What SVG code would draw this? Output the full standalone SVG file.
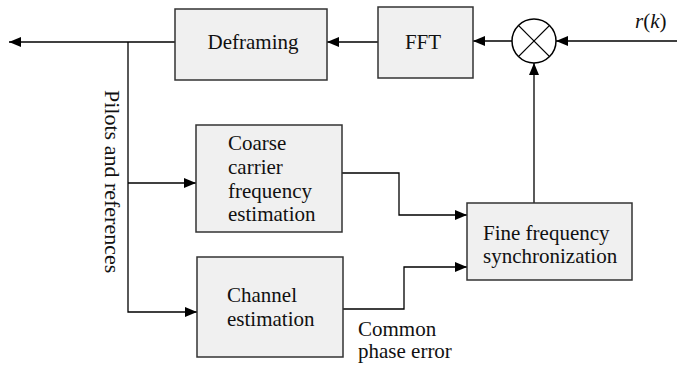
<svg xmlns="http://www.w3.org/2000/svg" width="677" height="366" viewBox="0 0 677 366">
<style>
.box{fill:#f0f0f0;stroke:#333;stroke-width:1.5}
.ln{fill:none;stroke:#000;stroke-width:1.3}
text{font-family:"Liberation Serif","Times New Roman",serif;font-size:21px;fill:#111}
</style>
<defs>
<marker id="ah" markerWidth="12" markerHeight="10" refX="12" refY="5" orient="auto" markerUnits="userSpaceOnUse">
<path d="M0,0 L12,5 L0,10 Z" fill="#000"/>
</marker>
</defs>
<rect width="677" height="366" fill="#fff"/>
<g id="connectors">
<line class="ln" x1="677" y1="41" x2="556" y2="41" marker-end="url(#ah)"/>
<line class="ln" x1="512" y1="41" x2="473" y2="41" marker-end="url(#ah)"/>
<line class="ln" x1="378" y1="42" x2="327" y2="42" marker-end="url(#ah)"/>
<line class="ln" x1="175" y1="42" x2="9" y2="42" marker-end="url(#ah)"/>
<line class="ln" x1="534" y1="203" x2="534" y2="63" marker-end="url(#ah)"/>
<polyline class="ln" points="128,42 128,312 197,312" marker-end="url(#ah)"/>
<line class="ln" x1="128" y1="183" x2="196" y2="183" marker-end="url(#ah)"/>
<polyline class="ln" points="342,173 399,173 399,215 467,215" marker-end="url(#ah)"/>
<polyline class="ln" points="343,309 404,309 404,267 467,267" marker-end="url(#ah)"/>
</g>
<g id="deframing">
<rect class="box" x="175" y="9" width="152" height="71"/>
<text x="253" y="49" text-anchor="middle">Deframing</text>
</g>
<g id="fft">
<rect class="box" x="378" y="7" width="95" height="71"/>
<text x="423" y="49" text-anchor="middle">FFT</text>
</g>
<g id="mixer">
<circle cx="534" cy="41" r="22" fill="#fff" stroke="#000" stroke-width="1.5"/>
<line x1="518.4" y1="25.4" x2="549.6" y2="56.6" stroke="#000" stroke-width="1.3"/>
<line x1="549.6" y1="25.4" x2="518.4" y2="56.6" stroke="#000" stroke-width="1.3"/>
</g>
<g id="input-label">
<text x="635" y="28"><tspan font-style="italic">r</tspan>(<tspan font-style="italic">k</tspan>)</text>
</g>
<g id="coarse">
<rect class="box" x="196" y="125" width="146" height="107"/>
<text x="228" y="150">Coarse</text>
<text x="228" y="174">carrier</text>
<text x="228" y="198">frequency</text>
<text x="228" y="221">estimation</text>
</g>
<g id="channel">
<rect class="box" x="197" y="257" width="146" height="100"/>
<text x="227" y="302">Channel</text>
<text x="227" y="326">estimation</text>
</g>
<g id="fine">
<rect class="box" x="467" y="203" width="165" height="77"/>
<text x="483" y="240">Fine frequency</text>
<text x="483" y="263">synchronization</text>
</g>
<g id="labels">
<text x="358" y="336">Common</text>
<text x="358" y="358">phase error</text>
<text transform="translate(105,90) rotate(90)" style="font-size:22px">Pilots and references</text>
</g>
</svg>
